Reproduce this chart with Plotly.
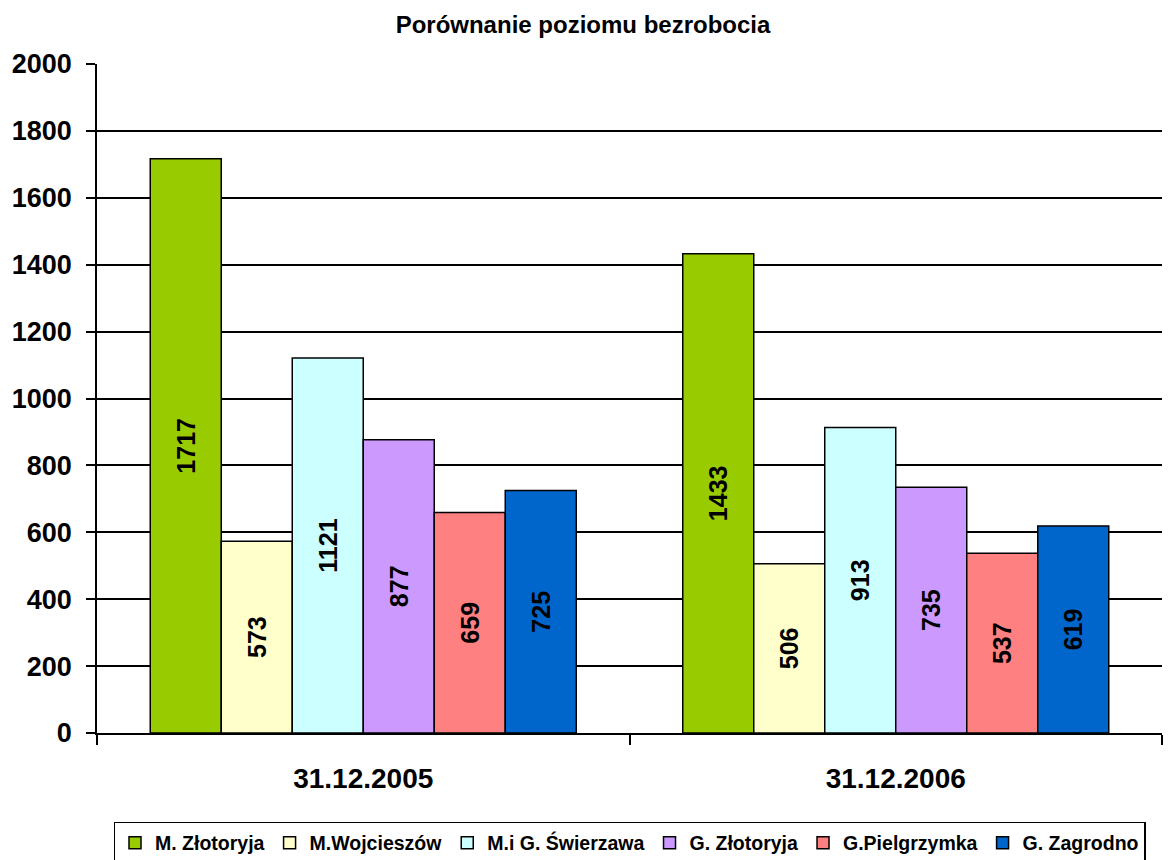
import plotly.graph_objects as go

categories = ["31.12.2005", "31.12.2006"]
series_names = ["M. Złotoryja", "M.Wojcieszów", "M.i G. Świerzawa", "G. Złotoryja", "G.Pielgrzymka", "G. Zagrodno"]
values = [
    [1717, 1433],
    [573, 506],
    [1121, 913],
    [877, 735],
    [659, 537],
    [725, 619],
]
colors = ["#99CC00", "#FFFFCC", "#CCFFFF", "#CC99FF", "#FF8080", "#0066CC"]
y_ticks = [0, 200, 400, 600, 800, 1000, 1200, 1400, 1600, 1800, 2000]

FONT = "Arial, Liberation Sans, sans-serif"

fig = go.Figure()
for name, vals, col in zip(series_names, values, colors):
    fig.add_trace(go.Bar(
        name=name, x=categories, y=vals,
        marker=dict(color=col, line=dict(color="black", width=1.5)),
        text=[str(v) for v in vals],
        textposition="inside", insidetextanchor="middle", textangle=-90,
        textfont=dict(family=FONT, size=25, color="black", weight="bold"),
        constraintext="none",
    ))

# page body has an 8px margin, so the figure is sized/positioned to compensate
fig.update_layout(
    width=1167, height=852,
    barmode="group", bargap=0.2, bargroupgap=0,
    plot_bgcolor="white", paper_bgcolor="white",
    margin=dict(l=89, r=13, t=56, b=127, autoexpand=False),
    title=dict(text="<b>Porównanie poziomu bezrobocia</b>", x=0.4927, xanchor="center",
               y=0.980, yanchor="middle",
               font=dict(family=FONT, size=24, color="black")),
    font=dict(family=FONT, color="black"),
    showlegend=True,
    legend=dict(orientation="h", x=0.5, xanchor="center", y=-0.133, yanchor="top",
                bordercolor="black", borderwidth=1.5,
                font=dict(family=FONT, size=19.5, color="black", weight="bold"),
                itemwidth=30, traceorder="normal"),
    uniformtext=dict(mode=False),
)
fig.update_xaxes(
    automargin=False,
    showline=True, linecolor="black", linewidth=1.5,
    ticks="outside", ticklen=10, tickwidth=1.5, tickcolor="black",
    tickson="boundaries", ticklabelstandoff=20,
    tickfont=dict(family=FONT, size=28, color="black", weight="bold"),
    showgrid=False,
)
fig.update_yaxes(
    automargin=False,
    range=[0, 2000], tickvals=y_ticks,
    showline=True, linecolor="black", linewidth=1.5,
    ticks="outside", ticklen=9, tickwidth=1.5, tickcolor="black",
    showgrid=True, gridcolor="black", gridwidth=1.5,
    zeroline=False, ticklabelstandoff=9,
    tickfont=dict(family=FONT, size=27, color="black", weight="bold"),
)

fig.write_html("out.html")
